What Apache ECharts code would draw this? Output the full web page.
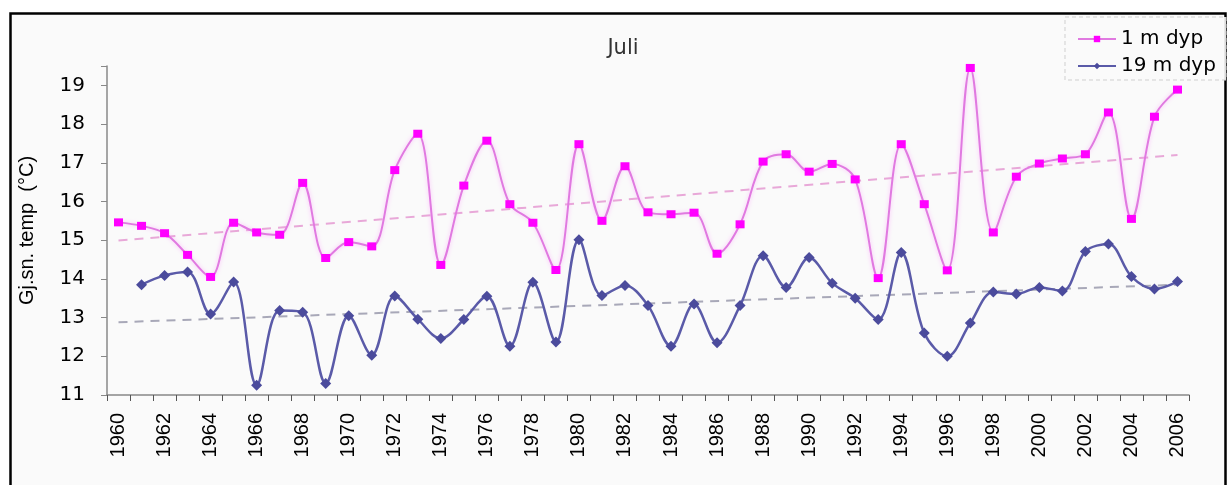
<!DOCTYPE html>
<html>
<head>
<meta charset="utf-8">
<script src="https://cdn.jsdelivr.net/npm/echarts@6/dist/echarts.min.js"></script>
<style>
html,body{margin:0;padding:0;background:#fff;}
#chart{width:1227px;height:485px;}
</style>
</head>
<body>
<div id="chart"></div>
<script>
const years = [];
for (let y = 1960; y <= 2006; y++) years.push(String(y));

const surface1m = [15.46,15.37,15.18,14.62,14.05,15.45,15.20,15.14,16.48,14.54,
  14.95,14.84,16.81,17.75,14.36,16.41,17.57,15.93,15.45,14.23,
  17.48,15.50,16.91,15.72,15.67,15.71,14.65,15.41,17.03,17.22,
  16.77,16.97,16.57,14.02,17.48,15.93,14.22,19.45,15.20,16.64,
  16.98,17.11,17.22,18.30,15.55,18.19,18.89];

const depth19m = [null,13.85,14.09,14.18,13.09,13.92,11.25,13.18,13.14,11.30,
  13.05,12.03,13.56,12.96,12.46,12.95,13.55,12.26,13.91,12.37,
  15.01,13.57,13.83,13.31,12.26,13.35,12.35,13.31,14.60,13.78,
  14.55,13.89,13.50,12.95,14.68,12.60,12.00,12.86,13.66,13.61,
  13.78,13.69,14.71,14.90,14.06,13.74,13.93];

const trend1mEnds = [14.99, 17.20];
const trend19mEnds = [12.88, 13.85];

const yTicks = { min: 11, max: 19.5, interval: 1 };

const chart = echarts.init(document.getElementById('chart'), null, {renderer: 'canvas'});
const font = 'Liberation Sans, Arial, sans-serif';
const wide = 'DejaVu Sans, sans-serif';

chart.setOption({
  backgroundColor: '#ffffff',
  animation: false,
  graphic: [
    { type: 'rect', z: -10, silent: true,
      shape: { x: 10.5, y: 13.5, width: 1215, height: 480 },
      style: { fill: '#fafafa', stroke: '#000', lineWidth: 2.5 } },
    { type: 'rect', z: 5, silent: true,
      shape: { x: 1065, y: 17, width: 161, height: 63 },
      style: { fill: 'rgba(250,250,250,0.9)', stroke: '#cfcfcf', lineWidth: 1, lineDash: [4, 3] } }
  ],
  title: {
    text: 'Juli', left: 618, top: 33, textAlign: 'center',
    textStyle: { fontFamily: wide, fontSize: 21, fontWeight: 'normal', color: '#333' }
  },
  legend: {
    orient: 'vertical', left: 1072, top: 24, z: 10,
    itemWidth: 38, itemHeight: 8, itemGap: 7,
    textStyle: { fontFamily: wide, fontSize: 20, color: '#000' },
    data: ['1 m dyp', '19 m dyp']
  },
  grid: { left: 107, right: 38, top: 66, bottom: 90 },
  xAxis: {
    type: 'category', data: years, boundaryGap: true,
    axisLine: { lineStyle: { color: '#888', width: 1.5 } },
    axisTick: { show: true, interval: 0, length: 6, lineStyle: { color: '#555' } },
    axisLabel: { interval: 1, rotate: 90, margin: 18, fontFamily: font, fontSize: 20, color: '#000' },
    splitLine: { show: false }
  },
  yAxis: {
    type: 'value', min: yTicks.min, max: yTicks.max, interval: yTicks.interval,
    name: 'Gj.sn. temp  (°C)', nameLocation: 'middle', nameGap: 70, nameRotate: 90,
    nameTextStyle: { fontFamily: font, fontSize: 20, color: '#000' },
    axisLine: { show: true, lineStyle: { color: '#888', width: 1.5 } },
    axisTick: { show: true, length: 6, lineStyle: { color: '#888' } },
    axisLabel: { margin: 22, fontFamily: wide, fontSize: 20, color: '#000',
      formatter: v => (Number.isInteger(v) ? String(v) : '') },
    splitLine: { show: false }
  },
  series: [
    { name: '1 m dyp', type: 'line', data: surface1m, smooth: 0.35,
      symbol: 'rect', symbolSize: [9, 8], showSymbol: true,
      itemStyle: { color: '#ff00ff' },
      lineStyle: { color: '#e07ae0', width: 2, shadowColor: 'rgba(255,150,255,0.6)', shadowBlur: 4 },
      z: 4 },
    { name: '19 m dyp', type: 'line', data: depth19m, smooth: 0.35,
      symbol: 'diamond', symbolSize: 11, showSymbol: true,
      itemStyle: { color: '#4b4b9c' },
      lineStyle: { color: '#5a5aa8', width: 2.5 },
      z: 4 },
    { name: 'trend1', type: 'line', data: [[years[0], trend1mEnds[0]], [years[years.length - 1], trend1mEnds[1]]],
      symbol: 'none', silent: true, z: 2,
      lineStyle: { color: '#e8a8d8', width: 2, type: [9, 7] } },
    { name: 'trend19', type: 'line', data: [[years[0], trend19mEnds[0]], [years[years.length - 1], trend19mEnds[1]]],
      symbol: 'none', silent: true, z: 2,
      lineStyle: { color: '#a8a8b8', width: 2, type: [9, 7] } }
  ]
});
</script>
</body>
</html>
